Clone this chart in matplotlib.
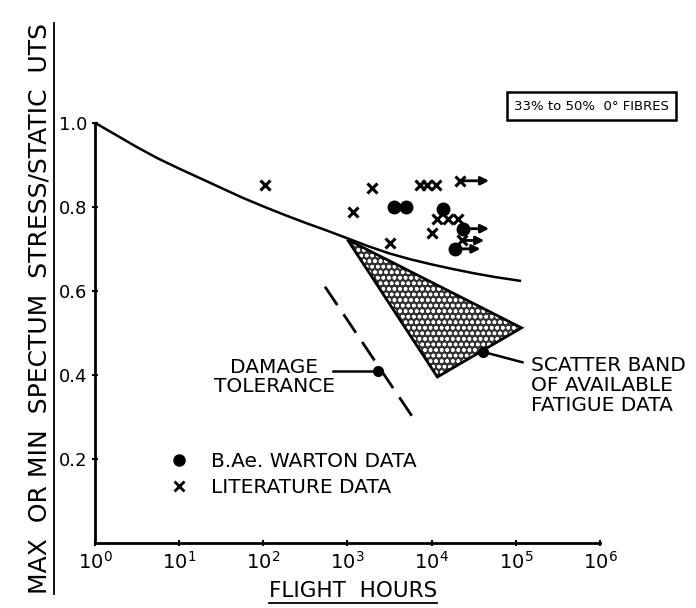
"""Fatigue of CFRP: spectrum stress ratio against flight hours."""

import matplotlib
matplotlib.use('Agg')
import matplotlib.pyplot as plt
from matplotlib.lines import Line2D
from matplotlib.patches import Polygon

# mean curve, read at quarter decades
CURVE_HOURS = [1, 1.78, 3.16, 5.62, 10, 17.8, 31.6, 56.2, 100, 178, 316, 562,
               1000, 1780, 3160, 5620, 10000, 17800, 31600, 56200, 112000]
CURVE_RATIO = [1.0, 0.971, 0.942, 0.915, 0.891, 0.868, 0.845, 0.822, 0.801,
               0.781, 0.762, 0.744, 0.725, 0.706, 0.689, 0.675, 0.663, 0.652,
               0.642, 0.633, 0.624]

# scatter band of available fatigue data (triangle corners)
BAND_HOURS = [1000, 117000, 11700]
BAND_RATIO = [0.722, 0.512, 0.395]

# damage tolerance line
DT_HOURS = [540, 6600]
DT_RATIO = [0.61, 0.286]

# B.Ae. Warton data
WARTON_HOURS = [3550, 4900, 13500, 23400, 19000]
WARTON_RATIO = [0.80, 0.80, 0.795, 0.748, 0.70]
WARTON_RUNOUT = [None, None, None, 52000, 41000]

# literature data
LIT_HOURS = [105, 1950, 1150, 7200, 8900, 11200, 21900, 11700, 15500, 20400,
             23000, 10000, 3160]
LIT_RATIO = [0.852, 0.845, 0.788, 0.852, 0.852, 0.852, 0.862, 0.77, 0.77,
             0.77, 0.72, 0.738, 0.714]
LIT_RUNOUT = [None, None, None, None, None, None, 52000, None, None, None,
              45500, None, None]

X_TICKS = [1, 10, 100, 1000, 10000, 100000, 1000000]
X_LABELS = [r'$10^{%d}$' % i for i in range(7)]
Y_TICKS = [0.2, 0.4, 0.6, 0.8, 1.0]
Y_LABELS = ['0.2', '0.4', '0.6', '0.8', '1.0']

plt.rcParams['font.family'] = ['DejaVu Sans']
plt.rcParams['mathtext.fontset'] = 'dejavusans'

fig = plt.figure(figsize=(6.96, 6.08), dpi=100)
ax = fig.add_axes([0.1365, 0.107, 0.7255, 0.691])
ax.set_xscale('log')
ax.set_xlim(1, 1e6)
ax.set_ylim(0, 1.0)
for side in ['top', 'right']:
  ax.spines[side].set_visible(False)
for side in ['left', 'bottom']:
  ax.spines[side].set_linewidth(2)
ax.set_xticks(X_TICKS)
ax.set_xticklabels(X_LABELS, fontsize=14)
ax.set_yticks(Y_TICKS)
ax.set_yticklabels(Y_LABELS, fontsize=13)
ax.minorticks_off()
ax.tick_params(direction='inout', length=5, width=1.5, pad=3)

ax.plot(CURVE_HOURS, CURVE_RATIO, color='black', lw=1.8)

band = list(zip(BAND_HOURS, BAND_RATIO))
ax.add_patch(Polygon(band, closed=True, facecolor='0.2', edgecolor='white',
                     hatch='ooo', lw=0))
ax.add_patch(Polygon(band, closed=True, fill=False, edgecolor='black', lw=2))

ax.plot(DT_HOURS, DT_RATIO, color='black', lw=2, dashes=(8, 4))

# data points with run-out arrows
for h, r, run in zip(WARTON_HOURS, WARTON_RATIO, WARTON_RUNOUT):
  if run:
    ax.annotate('', xy=(run, r), xytext=(h, r),
                arrowprops=dict(arrowstyle='-|>', color='black', lw=2,
                                mutation_scale=12))
  ax.plot(h, r, 'o', color='black', ms=9)
for h, r, run in zip(LIT_HOURS, LIT_RATIO, LIT_RUNOUT):
  if run:
    ax.annotate('', xy=(run, r), xytext=(h, r),
                arrowprops=dict(arrowstyle='-|>', color='black', lw=2,
                                mutation_scale=12))
  ax.plot(h, r, 'x', color='black', ms=7, mew=2.2)

# labels with pointers
ax.plot(2300, 0.41, 'o', color='black', ms=7)
ax.plot([670, 2300], [0.41, 0.41], color='black', lw=1.8)
ax.text(134, 0.395, 'DAMAGE\nTOLERANCE', ha='center', va='center',
        fontsize=14.5, linespacing=1.0)

ax.plot(40500, 0.455, 'o', color='black', ms=7)
ax.plot([40500, 120000], [0.455, 0.43], color='black', lw=1.8)
ax.text(152000, 0.375, 'SCATTER BAND\nOF AVAILABLE\nFATIGUE DATA',
        ha='left', va='center', fontsize=14.5, linespacing=1.05)

ax.text(10 ** 5.9, 1.04, '33% to 50%  0° FIBRES', ha='center', va='center',
        fontsize=9.5, clip_on=False,
        bbox=dict(boxstyle='square,pad=0.55', facecolor='white',
                  edgecolor='black', lw=1.8))

handles = [
    Line2D([], [], marker='o', color='black', ls='none', ms=8),
    Line2D([], [], marker='x', color='black', ls='none', ms=7, mew=2),
]
ax.legend(handles, ['B.Ae. WARTON DATA', 'LITERATURE DATA'],
          loc='upper left', bbox_to_anchor=(0.09, 0.26), frameon=False,
          fontsize=14.5, handletextpad=0.6, labelspacing=0.35)

xl = fig.text(0.507, 1 - 591 / 608, 'FLIGHT  HOURS', ha='center',
              va='center', fontsize=15.5)
yl = fig.text(0.057, 1 - 308 / 608,
              'MAX  OR MIN  SPECTUM  STRESS/STATIC  UTS', rotation=90,
              ha='center', va='center', fontsize=18)

# underline both axis titles
fig.canvas.draw()
inv = fig.transFigure.inverted()
bb = xl.get_window_extent().transformed(inv)
fig.add_artist(Line2D([bb.x0, bb.x1], [bb.y0 - 0.003, bb.y0 - 0.003],
                      color='black', lw=1.3, transform=fig.transFigure))
bb = yl.get_window_extent().transformed(inv)
fig.add_artist(Line2D([bb.x1 + 0.003, bb.x1 + 0.003], [bb.y0, bb.y1],
                      color='black', lw=1.3, transform=fig.transFigure))

fig.savefig('out.png', dpi=100)
